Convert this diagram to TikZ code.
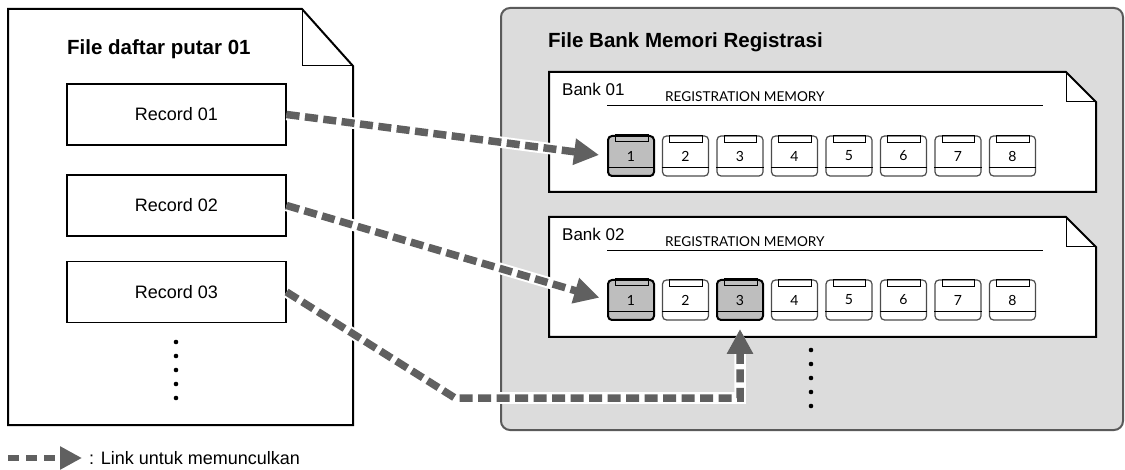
\documentclass[tikz,border=0pt]{standalone}
\usepackage{fontspec}
\setmainfont{Liberation Sans}
\newfontfamily\regfont{Lato}
\usetikzlibrary{arrows.meta}
\definecolor{panelgray}{HTML}{DCDCDC}
\definecolor{panelline}{HTML}{5A5A5A}
\definecolor{linkgray}{HTML}{606060}
\definecolor{keygray}{HTML}{BEBEBE}

\begin{document}
\begin{tikzpicture}[x=1pt,y=-1pt,
  record/.style={draw,line width=1.2pt,minimum width=219pt,minimum height=61pt,inner sep=0pt,font=\fontsize{18}{20}\selectfont},
  key/.style={rounded corners=4pt,minimum width=46pt,minimum height=40pt,inner sep=0pt,font=\regfont\fontsize{14}{14}\selectfont},
  link/.style={draw=linkgray,line width=7.5pt,dash pattern=on 13pt off 5.5pt,shorten >=8pt,-{Triangle[length=25pt,width=25pt]},
    preaction={draw=white,line width=11.5pt,solid}},
  legendlink/.style={draw=linkgray,line width=6pt,dash pattern=on 11pt off 7pt,-{Triangle[length=22pt,width=22pt]}},
]
\useasboundingbox (0,0) rectangle (1125,470);

\draw[fill=panelgray,draw=panelline,line width=2pt,rounded corners=9pt] (501,8) rectangle (1123,430);
\node[anchor=base west,inner sep=0pt,font=\bfseries\fontsize{20.5}{24}\selectfont] (banktitle) at (548,48) {File Bank Memori Registrasi};

\foreach \k/\t in {1/72,2/217}{
  \draw[line width=2pt,fill=white,line join=miter] (549,\t) -- (1066,\t) -- (1096,\t+30) -- (1096,\t+120) -- (549,\t+120) -- cycle;
  \draw[line width=1pt] (1066,\t) -- (1066,\t+30) -- (1096,\t+30);
  \node[anchor=base west,inner sep=0pt,font=\fontsize{17}{20}\selectfont] (bank\k) at (562,\t+24) {Bank 0\k};
  \node[anchor=base west,inner sep=0pt,font=\regfont\fontsize{13.6}{15}\selectfont] (reg\k) at (665,\t+30) {REGISTRATION MEMORY};
  \draw[line width=1pt] (607,\t+34) -- (1043,\t+34);
}

\foreach \k/\t in {1/136,2/280}
  \foreach \j in {1,...,8}{
    \def\kfill{white}\def\kdraw{black!70}\def\klw{1.2pt}
    \ifnum\k\j=11 \def\kfill{keygray}\def\kdraw{black}\def\klw{2pt}\fi
    \ifnum\k\j=21 \def\kfill{keygray}\def\kdraw{black}\def\klw{2pt}\fi
    \ifnum\k\j=23 \def\kfill{keygray}\def\kdraw{black}\def\klw{2pt}\fi
    \node[key,fill=\kfill,draw=\kdraw,line width=\klw] (b\k\j) at ({631+(\j-1)*54.5},\t+20) {\j};
    \draw[line width=1pt] ([xshift=8pt]b\k\j.north west) rectangle ([xshift=-7pt,yshift=-7pt]b\k\j.north east);
    \draw[line width=1pt] ([yshift=9pt]b\k\j.south west) -- ([yshift=9pt]b\k\j.south east);
  }

\foreach \y in {350,364,...,406} \fill (811,\y) circle (2.3pt);

\draw[line width=2pt,fill=white,line join=miter] (8,9) -- (302,9) -- (353,66) -- (353,425) -- (8,425) -- cycle;
\draw[line width=1pt] (302,9) -- (302,66) -- (353,66);
\node[anchor=base west,inner sep=0pt,font=\bfseries\fontsize{20.5}{24}\selectfont] (listtitle) at (67,55) {File daftar putar 01};
\node[record] (rec1) at (176.5,114.5) {Record 01};
\node[record] (rec2) at (176.5,205.5) {Record 02};
\node[record] (rec3) at (176.5,292) {Record 03};
\foreach \y in {342,356,...,398} \fill (176,\y) circle (2.3pt);

\coordinate (bend) at (455,398);
\draw[link] (rec1.east) -- (b11.west);
\draw[link] (rec2.east) -- (b21.west);
\draw[link] (rec3.east) -- (bend) -| (b23.south);

\coordinate (legstart) at (8,458);
\node[anchor=west,inner sep=0pt,font=\fontsize{18}{20}\selectfont] (legtext) at (89,458) {: Link untuk memunculkan};
\draw[legendlink,shorten >=7pt] (legstart) -- (legtext.west);
\end{tikzpicture}
\end{document}
